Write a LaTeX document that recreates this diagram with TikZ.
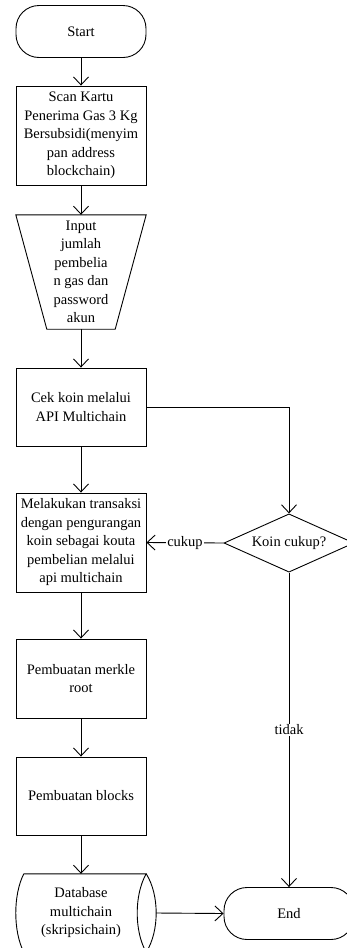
\documentclass[tikz,border=0pt]{standalone}
\usepackage{fontspec}
\setmainfont{Liberation Serif}
\usepackage{tikz}
\usetikzlibrary{arrows.meta,shapes.geometric}

\tikzset{
    flowbox/.style={draw, line width=0.9pt, minimum width=130pt, align=center, inner sep=2pt},
    terminal/.style={flowbox, rounded corners=23pt, minimum height=52pt},
    decision/.style={draw, line width=0.9pt, diamond, aspect=1.65, minimum width=130pt, inner sep=0pt},
    flowarrow/.style={-{Straight Barb[length=8pt,width=15pt]}, line width=0.9pt},
    edgelabel/.style={fill=white, inner sep=1pt}
}

\begin{document}
\begin{tikzpicture}[x=1pt, y=-1pt, font=\fontsize{14.5}{18.5}\selectfont]
    \useasboundingbox (0,0) rectangle (347,948);

    % Left column
    \node[terminal] (start) at (81,31.5) {Start};
    \node[flowbox, minimum height=99pt] (scan) at (81,135.5)
        {Scan Kartu\\Penerima Gas 3 Kg\\Bersubsidi(menyim\\pan address\\blockchain)};
    \node[minimum width=130pt, minimum height=114pt, align=center, inner sep=0pt] (input) at (81,272)
        {Input\\jumlah\\pembelia\\n gas dan\\password\\akun};
    \draw[line width=0.9pt] (input.north west) -- (input.north east)
        -- ([xshift=-31pt]input.south east) -- ([xshift=31pt]input.south west) -- cycle;
    \node[flowbox, minimum height=78pt] (cek) at (81,407) {Cek koin melalui\\API Multichain};
    \node[flowbox, minimum height=99pt] (trans) at (81,542.5)
        {Melakukan transaksi\\dengan pengurangan\\koin sebagai kouta\\pembelian melalui\\api multichain};
    \node[flowbox, minimum height=79pt] (merkle) at (81,678.5) {Pembuatan merkle\\root};
    \node[flowbox, minimum height=78pt] (blocks) at (81,796) {Pembuatan blocks};

    % Database (stored data)
    \node[minimum width=130pt, minimum height=78pt, align=center, inner sep=0pt] (db) at (81,913)
        {Database\\multichain\\(skripsichain)};
    \draw[line width=0.9pt] ([xshift=8pt]db.north west) -- (db.north east)
        .. controls +(-12,21) and +(-12,-21) .. (db.south east)
        -- ([xshift=8pt]db.south west)
        .. controls +(-10.7,-21) and +(-10.7,21) .. ([xshift=8pt]db.north west);
    \draw[line width=0.9pt] (db.north east)
        .. controls +(13.3,21) and +(13.3,-21) .. (db.south east);

    % Right column
    \node[decision] (koin) at (289,543) {Koin cukup?};
    \node[terminal] (end) at (289,913.5) {End};

    % Connectors
    \draw[flowarrow] (start) -- (scan);
    \draw[flowarrow] (scan) -- (input.north);
    \draw[flowarrow] (input.south) -- (cek);
    \draw[flowarrow] (cek) -- (trans);
    \draw[flowarrow] (trans) -- (merkle);
    \draw[flowarrow] (merkle) -- (blocks);
    \draw[flowarrow] (blocks) -- (db.north);
    \draw[flowarrow] (cek.east) -| (koin.north);
    \draw[flowarrow] (koin.west) -- node[edgelabel] {cukup} (trans.east);
    \draw[flowarrow] (koin.south) -- node[edgelabel] {tidak} (end.north);
    \draw[flowarrow] ([xshift=10pt]db.east) -- (end.west);
\end{tikzpicture}
\end{document}
